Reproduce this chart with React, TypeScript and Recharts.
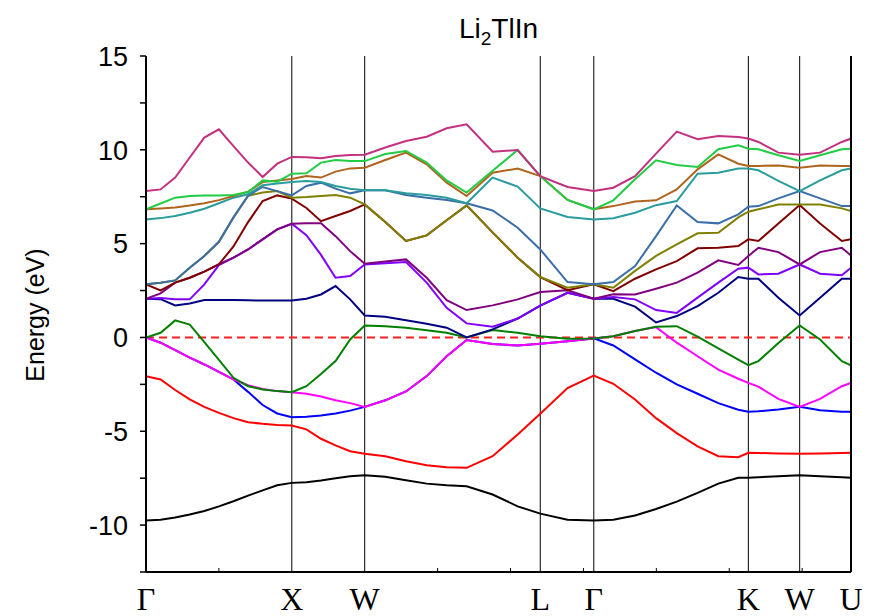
import { LineChart, Line, XAxis, YAxis, ReferenceLine } from "recharts";

// k-path positions (units of 2π/a along the path)
const kpts = [
  0, 0.1, 0.2, 0.3, 0.4, 0.5, 0.6, 0.7, 0.8, 0.9, 1.0,
  1.1, 1.2, 1.3, 1.4, 1.5,
  1.641, 1.783, 1.925, 2.062, 2.199, 2.377, 2.549, 2.704,
  2.891, 3.071,
  3.205, 3.354, 3.498, 3.64, 3.783, 3.925, 4.062, 4.131,
  4.2, 4.337, 4.483,
  4.623, 4.772, 4.835,
];

const symPos = [0, 1, 1.5, 2.704, 3.071, 4.131, 4.483, 4.835];
const symLabels = ["Γ", "X", "W", "L", "Γ", "K", "W", "U"];
const minorX = [0.5, 1, 1.5, 2, 2.5, 3, 3.5, 4, 4.5];
const yTicks = [-12.5, -10, -7.5, -5, -2.5, 0, 2.5, 5, 7.5, 10, 12.5, 15];

// energies (eV), one array per band, same order as kpts
const black = [-9.76, -9.72, -9.6, -9.44, -9.25, -9.0, -8.73, -8.43, -8.15, -7.88, -7.75, -7.72, -7.62, -7.5, -7.4, -7.34, -7.43, -7.61, -7.79, -7.88, -7.93, -8.37, -9.0, -9.39, -9.71, -9.76, -9.71, -9.49, -9.14, -8.75, -8.28, -7.79, -7.48, -7.48, -7.45, -7.4, -7.34, -7.4, -7.45, -7.48];
const red = [-2.06, -2.24, -2.8, -3.3, -3.7, -4.02, -4.3, -4.52, -4.6, -4.66, -4.69, -4.9, -5.4, -5.75, -6.06, -6.2, -6.33, -6.6, -6.81, -6.92, -6.95, -6.33, -5.17, -4.07, -2.7, -2.03, -2.47, -3.31, -4.3, -5.1, -5.8, -6.33, -6.38, -6.15, -6.16, -6.18, -6.2, -6.18, -6.16, -6.15];
const blue = [0, -0.28, -0.68, -1.08, -1.44, -1.84, -2.24, -2.9, -3.6, -4.05, -4.25, -4.22, -4.16, -4.05, -3.9, -3.7, -3.35, -2.88, -2.06, -1.0, -0.14, -0.35, -0.43, -0.34, -0.2, -0.05, -0.43, -1.17, -1.88, -2.5, -3.0, -3.5, -3.85, -3.96, -3.93, -3.84, -3.7, -3.88, -3.96, -3.96];
const magenta = [0, -0.28, -0.68, -1.08, -1.44, -1.84, -2.24, -2.55, -2.75, -2.86, -2.92, -3.0, -3.15, -3.35, -3.5, -3.7, -3.35, -2.88, -2.06, -1.0, -0.14, -0.35, -0.43, -0.34, -0.2, -0.05, 0.07, 0.34, 0.55, -0.28, -1.0, -1.71, -2.2, -2.42, -2.62, -3.27, -3.7, -3.27, -2.6, -2.42];
const green = [0, 0.25, 0.91, 0.69, -0.25, -1.2, -2.15, -2.6, -2.77, -2.86, -2.92, -2.6, -1.95, -1.26, -0.11, 0.64, 0.6, 0.52, 0.39, 0.25, 0.0, 0.4, 0.25, 0.07, -0.07, -0.05, 0.07, 0.34, 0.57, 0.6, 0.05, -0.58, -1.18, -1.48, -1.26, -0.3, 0.64, -0.11, -1.26, -1.48];
const navy = [2.06, 2.04, 1.71, 1.81, 2.0, 2.0, 1.99, 1.98, 1.97, 1.97, 1.97, 2.06, 2.29, 2.74, 2.03, 1.17, 1.1, 0.92, 0.73, 0.52, 0.0, 0.43, 1.01, 1.7, 2.38, 2.06, 2.06, 1.64, 0.8, 1.14, 1.67, 2.38, 3.22, 3.13, 3.13, 2.12, 1.17, 2.12, 3.13, 3.13];
const violet = [2.06, 2.1, 2.03, 2.03, 2.83, 3.86, 4.25, 4.69, 5.23, 5.76, 6.06, 5.45, 4.4, 3.18, 3.27, 3.89, 3.95, 4.02, 2.92, 1.58, 0.75, 0.57, 1.01, 1.7, 2.38, 2.06, 2.15, 2.03, 1.46, 1.31, 2.12, 2.92, 3.66, 3.72, 3.36, 3.4, 3.89, 3.4, 3.32, 3.72];
const purple = [2.06, 2.35, 2.92, 3.18, 3.51, 3.9, 4.25, 4.69, 5.23, 5.76, 6.06, 6.08, 6.08, 5.4, 4.6, 3.93, 4.05, 4.16, 3.18, 1.99, 1.46, 1.71, 2.03, 2.42, 2.51, 2.06, 2.3, 2.29, 2.6, 2.92, 3.45, 4.11, 3.86, 4.34, 4.78, 4.55, 3.89, 4.55, 4.78, 4.37];
const maroon = [2.83, 2.51, 2.92, 3.18, 3.51, 3.9, 4.85, 6.15, 7.27, 7.57, 7.4, 6.9, 6.2, 6.47, 6.74, 7.09, 6.15, 5.14, 5.44, 6.25, 7.04, 5.6, 4.25, 3.22, 2.52, 2.83, 2.47, 3.13, 3.63, 4.07, 4.75, 4.78, 4.87, 5.23, 5.14, 6.07, 7.06, 6.07, 5.14, 5.23];
const olive = [2.83, 2.92, 3.04, 3.72, 4.34, 5.1, 6.4, 7.55, 7.72, 7.8, 7.45, 7.48, 7.54, 7.59, 7.45, 7.09, 6.15, 5.14, 5.44, 6.25, 7.04, 5.6, 4.25, 3.22, 2.65, 2.83, 2.65, 3.55, 4.35, 4.96, 5.55, 5.58, 6.4, 6.7, 6.83, 7.09, 7.09, 7.09, 6.88, 6.74];
const steel = [2.83, 2.92, 3.04, 3.72, 4.34, 5.1, 6.4, 7.55, 8.02, 7.8, 7.57, 8.07, 8.25, 7.93, 7.68, 7.84, 7.84, 7.59, 7.45, 7.32, 7.15, 6.77, 5.85, 4.69, 2.95, 2.83, 2.95, 3.8, 5.4, 7.04, 6.15, 6.08, 6.56, 6.97, 7.0, 7.41, 7.8, 7.41, 7.0, 7.0];
const teal = [6.29, 6.36, 6.47, 6.65, 6.86, 7.15, 7.45, 7.63, 8.11, 8.21, 8.28, 8.34, 8.28, 8.07, 7.93, 7.84, 7.84, 7.68, 7.59, 7.45, 7.15, 8.52, 8.04, 6.88, 6.42, 6.29, 6.35, 6.65, 7.05, 7.27, 8.73, 8.78, 9.0, 9.01, 8.91, 8.34, 7.8, 8.37, 8.91, 9.01];
const brown = [6.83, 6.87, 6.92, 7.03, 7.15, 7.32, 7.54, 7.77, 8.28, 8.37, 8.45, 8.6, 8.52, 8.84, 9.01, 9.05, 9.46, 9.85, 9.23, 8.25, 7.54, 8.78, 9.0, 8.6, 7.33, 6.83, 7.0, 7.24, 7.31, 7.89, 8.96, 9.76, 9.26, 9.14, 9.14, 9.17, 9.05, 9.17, 9.14, 9.14];
const lime = [6.83, 7.14, 7.45, 7.54, 7.56, 7.57, 7.59, 7.75, 8.37, 8.3, 8.73, 8.75, 9.32, 9.46, 9.4, 9.4, 9.78, 9.94, 9.32, 8.37, 7.72, 8.88, 9.99, 8.6, 7.33, 6.83, 7.31, 8.43, 9.44, 9.19, 9.08, 10.03, 10.24, 10.06, 10.03, 9.71, 9.4, 9.71, 10.03, 10.06];
const pink = [7.8, 7.89, 8.52, 9.59, 10.65, 11.09, 10.2, 9.32, 8.55, 9.26, 9.62, 9.6, 9.55, 9.67, 9.72, 9.74, 10.12, 10.47, 10.7, 11.15, 11.36, 9.9, 9.99, 8.6, 8.02, 7.8, 7.98, 8.6, 9.8, 10.97, 10.56, 10.74, 10.68, 10.6, 10.42, 9.85, 9.74, 9.85, 10.42, 10.6];

const bands = [
  { key: "black", color: "#000000", values: black },
  { key: "red", color: "#ff0000", values: red },
  { key: "blue", color: "#0000ff", values: blue },
  { key: "magenta", color: "#ff00ff", values: magenta },
  { key: "green", color: "#008000", values: green },
  { key: "navy", color: "#000080", values: navy },
  { key: "violet", color: "#8000ff", values: violet },
  { key: "purple", color: "#800080", values: purple },
  { key: "maroon", color: "#800000", values: maroon },
  { key: "olive", color: "#808000", values: olive },
  { key: "steel", color: "#3a6ea8", values: steel },
  { key: "teal", color: "#2a9c9c", values: teal },
  { key: "brown", color: "#b0651e", values: brown },
  { key: "lime", color: "#22cc44", values: lime },
  { key: "pink", color: "#c3307f", values: pink },
];

const rows = kpts.map((k, i) => {
  const row: Record<string, number> = { k };
  bands.forEach((b) => (row[b.key] = b.values[i]));
  return row;
});

const W = 862;
const H = 608;
const PLOT_BOTTOM = 564;
const PLOT_TOP = 48;
const sans = "'Liberation Sans', Arial, sans-serif";

const bottomTicks = Array.from(new Set([...symPos, ...minorX])).sort((a, b) => a - b);

const BottomTick = (props: any) => {
  const { x, payload } = props;
  const i = symPos.indexOf(payload.value);
  if (i < 0) {
    return <line x1={x} x2={x} y1={PLOT_BOTTOM} y2={PLOT_BOTTOM - 4} stroke="#000" strokeWidth={1} />;
  }
  return (
    <text x={x} y={602} textAnchor="middle" fontFamily="'Liberation Serif', 'Times New Roman', serif" fontSize={32} fill="#000">
      {symLabels[i]}
    </text>
  );
};

const TopTick = (props: any) => {
  const { x } = props;
  return <line x1={x} x2={x} y1={PLOT_TOP} y2={PLOT_TOP + 4} stroke="#000" strokeWidth={1} />;
};

const LeftTick = (props: any) => {
  const { x, y, payload } = props;
  if (payload.value % 5 !== 0) return <g />;
  return (
    <text x={x} y={y} dy="0.36em" textAnchor="end" fontFamily={sans} fontSize={27} fill="#000">
      {payload.value}
    </text>
  );
};

export default function App() {
  return (
    <div style={{ position: "relative", width: W, height: H }}>
      <LineChart width={W} height={H} data={rows} margin={{ top: PLOT_TOP, right: 0, bottom: 0, left: 0 }}>
        <XAxis
          dataKey="k"
          type="number"
          domain={[0, 4.835]}
          allowDataOverflow
          ticks={bottomTicks}
          interval={0}
          tick={<BottomTick />}
          tickLine={false}
          axisLine={{ stroke: "#000", strokeWidth: 2 }}
          height={44}
        />
        <XAxis
          xAxisId="top"
          orientation="top"
          dataKey="k"
          type="number"
          domain={[0, 4.835]}
          allowDataOverflow
          ticks={minorX}
          interval={0}
          tick={<TopTick />}
          tickLine={false}
          axisLine={{ stroke: "#000", strokeWidth: 2 }}
          height={0}
        />
        <YAxis
          type="number"
          domain={[-12.5, 15]}
          allowDataOverflow
          ticks={yTicks}
          interval={0}
          width={138}
          tickSize={6}
          tickMargin={12}
          tick={<LeftTick />}
          tickLine={{ stroke: "#000", strokeWidth: 1.5 }}
          axisLine={{ stroke: "#000", strokeWidth: 2 }}
        />
        <YAxis
          yAxisId="right"
          orientation="right"
          type="number"
          domain={[-12.5, 15]}
          allowDataOverflow
          ticks={yTicks}
          interval={0}
          width={19}
          tickSize={3}
          tick={false}
          tickLine={{ stroke: "#000", strokeWidth: 1 }}
          axisLine={{ stroke: "#000", strokeWidth: 2 }}
        />
        {symPos.slice(1, -1).map((p, i) => (
          <ReferenceLine key={`v${i}`} x={p} stroke="#000" strokeWidth={1} />
        ))}
        <ReferenceLine y={0} stroke="#ff2020" strokeWidth={2} strokeDasharray="8 5" />
        {bands.map((b) => (
          <Line
            key={b.key}
            type="linear"
            dataKey={b.key}
            stroke={b.color}
            strokeWidth={2}
            dot={false}
            activeDot={false}
            isAnimationActive={false}
          />
        ))}
      </LineChart>
      <div
        style={{
          position: "absolute",
          left: 138,
          width: 705,
          top: 7,
          textAlign: "center",
          fontFamily: sans,
          fontSize: 28,
          lineHeight: "28px",
        }}
      >
        Li<sub style={{ fontSize: 19, lineHeight: 0 }}>2</sub>TlIn
      </div>
      <div
        style={{
          position: "absolute",
          left: 27,
          top: 307,
          width: 220,
          textAlign: "center",
          fontFamily: sans,
          fontSize: 25,
          lineHeight: "25px",
          transform: "translate(-50%, -50%) rotate(-90deg)",
          whiteSpace: "nowrap",
        }}
      >
        Energy (eV)
      </div>
    </div>
  );
}
